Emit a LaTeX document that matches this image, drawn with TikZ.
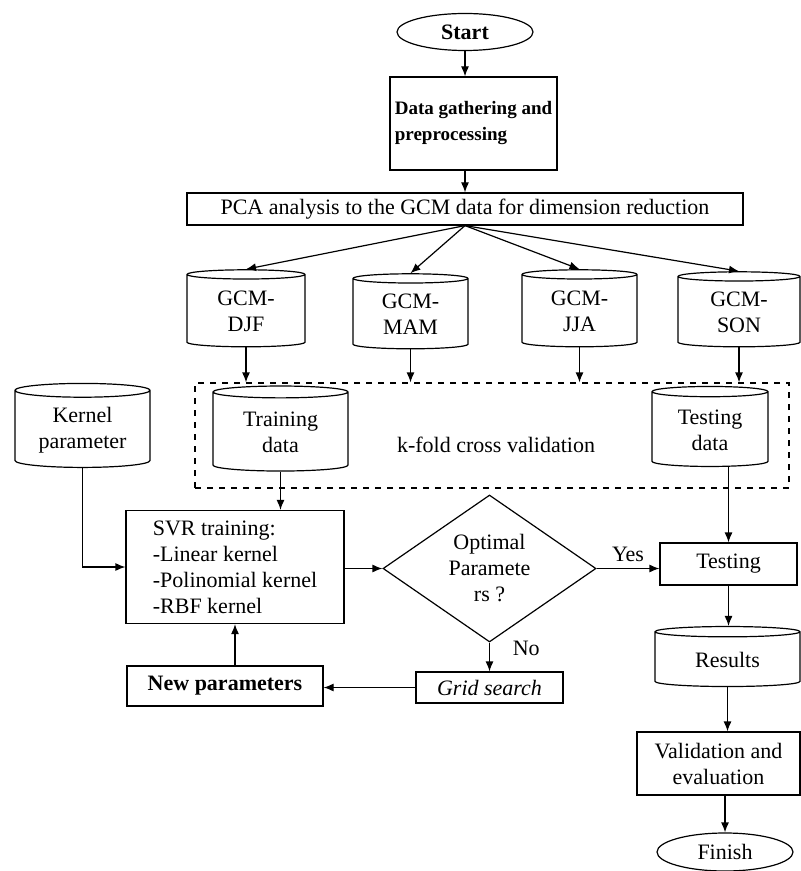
\documentclass[tikz,border=0pt]{standalone}
\usepackage{fontspec}
\setmainfont{Liberation Serif}
\usetikzlibrary{positioning,calc,arrows.meta,shapes.geometric}
\tikzset{
  box/.style={draw, rectangle, inner sep=2pt, align=center},
  drum/.style={draw, cylinder, shape border rotate=90, aspect=0.15,
               inner sep=1pt, align=center},
  oval/.style={draw, ellipse, inner sep=1pt},
  arr/.style={-{Latex[length=5pt,width=4pt]}},
}

\begin{document}
\begin{tikzpicture}[x=0.5pt, y=-0.5pt, line width=0.6pt,
                    font=\fontsize{11}{13}\selectfont]
  \useasboundingbox (0,0) rectangle (800,871);
  % top part
  \node[oval, minimum width=68pt, minimum height=18.5pt, font=\fontsize{11}{13}\selectfont\bfseries] (start) at (465,32) {Start};
  \node[box, minimum width=83.5pt, minimum height=46.5pt, align=left, font=\fontsize{9.5}{13}\selectfont\bfseries] (gather) at (473.5,123.5) {Data gathering and\\preprocessing};
  \node[box, minimum width=278pt, minimum height=16pt] (pca) at (465,209) {PCA analysis to the GCM data for dimension reduction};
  % seasons
  \node[drum, minimum width=59pt, minimum height=38.5pt] (djf) at (246,311.5) {GCM-\\DJF};
  \node[drum, minimum width=57.5pt, minimum height=37.5pt] (mam) at (410.5,314.5) {GCM-\\MAM};
  \node[drum, minimum width=57.5pt, minimum height=38.5pt] (jja) at (579.5,311.5) {GCM-\\JJA};
  \node[drum, minimum width=61pt, minimum height=37.5pt] (son) at (739,312.5) {GCM-\\SON};
  % cross validation
  \node[box, dashed, minimum width=297pt, minimum height=52.5pt] (cvbox) at (492,435.5) {};
  \node (cvtext) at (496,445) {k-fold cross validation};
  \node[drum, minimum width=67.5pt, minimum height=42.5pt] (train) at (280.5,432.5) {Training\\data};
  \node[drum, minimum width=58pt, minimum height=40pt] (test) at (710,430) {Testing\\data};
  \node[drum, minimum width=67.5pt, minimum height=42pt] (kern) at (82.5,430) {Kernel\\parameter};
  % training loop
  \node[box, minimum width=109pt, minimum height=56.5pt, align=left] (svr) at (235,567) {SVR training:\\-Linear kernel\\-Polinomial kernel\\-RBF kernel};
  \node[draw, diamond, aspect=1.45, minimum width=106.5pt, minimum height=73.5pt, inner sep=0pt, align=center] (dec) at (489.5,568.5) {Optimal\\Paramete\\rs ?};
  \node[box, minimum width=73.5pt, minimum height=15.5pt, font=\fontsize{11}{13}\selectfont\itshape] (grid) at (489.5,687.5) {Grid search};
  \node[box, minimum width=98pt, minimum height=20pt, font=\fontsize{11}{13}\selectfont\bfseries] (newp) at (225,686) {New parameters};
  % output side
  \node[box, minimum width=68.5pt, minimum height=21pt] (testing) at (728.5,564) {Testing};
  \node[drum, minimum width=72.5pt, minimum height=30pt] (results) at (727.5,660) {Results};
  \node[box, minimum width=81.5pt, minimum height=31.5pt] (valid) at (718.5,763.5) {Validation and\\evaluation};
  \node[oval, minimum width=68pt, minimum height=19pt] (finish) at (725,852) {Finish};
  % connectors
  \draw[arr] (start.south) -- (start.south |- gather.north);
  \draw[arr] (pca.north |- gather.south) -- (pca.north);
  \foreach \s in {djf,mam,jja,son}{
    \draw[arr] (pca.south) -- (\s.north);
    \draw[arr] (\s.south) -- (\s.south |- cvbox.north);}
  \draw[arr] (train.south) -- (train.south |- svr.north);
  \draw[arr] (kern.south) |- (svr.west);
  \draw[arr] (svr.east |- dec.west) -- (dec.west);
  \draw[arr] (dec.east) -- node[above] {Yes} (dec.east -| testing.west);
  \draw[arr] (testing.north |- test.south) -- (testing.north);
  \draw[arr] (dec.south) -- node[right, pos=0.2, xshift=8pt] {No} (grid.north);
  \draw[arr] (grid.west) -- (grid.west -| newp.east);
  \draw[arr] (newp.north -| svr.south) -- (svr.south);
  \draw[arr] (testing.south) -- (testing.south |- results.north);
  \draw[arr] (results.south) -- (results.south |- valid.north);
  \draw[arr] (finish.north |- valid.south) -- (finish.north);
\end{tikzpicture}
\end{document}
